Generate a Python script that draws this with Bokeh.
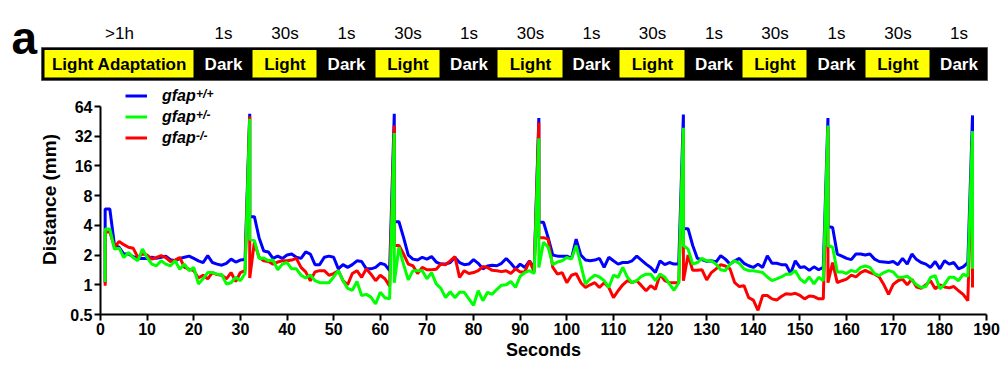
from bokeh.plotting import figure
from bokeh.models import Range1d, FixedTicker, Legend, LegendItem, Label, ColumnDataSource
from bokeh.embed import file_html
from bokeh.resources import INLINE
from bokeh.core.properties import value

# ---------------- data ----------------
seconds = list(range(1, 188))
spike_times = [32, 63, 94, 125, 156, 187]

wt = [5.85, 5.85, 2.5, 2.4, 2.05, 2.05, 1.93, 1.85, 1.85, 1.85,
      1.9, 1.85, 1.9, 1.95, 1.8, 1.75, 1.85, 1.9, 1.95, 1.85,
      1.75, 1.68, 1.97, 1.68, 1.62, 1.58, 1.65, 1.82, 1.7, 1.78,
      1.8, 54, 4.9, 3.0, 2.2, 2.15, 1.85, 1.95, 1.85, 2.0,
      2.05, 1.9, 1.85, 2.15, 2.05, 1.6, 1.6, 1.9, 1.95, 1.9,
      1.45, 1.6, 1.5, 1.6, 1.75, 1.72, 1.45, 1.45, 1.5, 1.65,
      1.6, 1.39, 54, 4.35, 3.0, 2.0, 1.82, 1.78, 1.9, 1.82,
      1.93, 1.7, 1.62, 1.62, 1.68, 1.89, 1.68, 1.6, 1.62, 1.8,
      1.65, 1.45, 1.55, 1.58, 1.56, 1.65, 1.85, 1.65, 1.45, 1.62,
      1.5, 1.75, 1.45, 49, 4.3, 3.0, 2.0, 1.95, 1.95, 1.95,
      1.85, 2.9, 2.0, 1.78, 1.75, 1.78, 1.85, 1.5, 1.9, 1.75,
      1.62, 1.68, 1.68, 1.75, 1.95, 1.78, 1.62, 1.5, 1.33, 1.75,
      1.6, 1.68, 1.62, 1.62, 53, 3.7, 2.5, 1.85, 1.8, 1.73,
      1.75, 1.7, 1.97, 1.82, 1.62, 1.75, 1.85, 1.65, 1.56, 1.5,
      1.62, 1.5, 1.97, 1.65, 1.65, 1.6, 1.6, 1.3, 1.75, 1.5,
      1.52, 1.4, 1.52, 1.42, 1.5, 49, 3.8, 2.05, 1.95, 1.85,
      1.8, 2.05, 2.05, 2.0, 2.05, 1.82, 1.72, 1.7, 1.68, 1.72,
      1.6, 1.85, 1.62, 2.05, 1.8, 1.68, 1.62, 1.5, 1.72, 1.45,
      1.75, 1.62, 1.68, 1.45, 1.52, 1.68, 52]
wt_start = 1.05
wt_after_spike = [4.9, 4.35, 4.3, 3.7, 3.9, 2.0]

het = [3.67, 3.67, 2.3, 2.35, 1.89, 2.12, 1.89, 1.75, 2.3, 1.89,
       1.62, 1.56, 1.75, 1.62, 1.56, 1.75, 1.44, 1.62, 1.39, 1.5,
       1.02, 1.15, 1.33, 1.33, 1.28, 1.27, 1.02, 1.05, 1.19, 1.1,
       1.3, 48, 2.8, 1.85, 1.87, 1.75, 1.78, 1.42, 1.62, 1.68,
       1.45, 1.45, 1.25, 1.17, 1.26, 1.1, 1.05, 1.05, 1.05, 1.2,
       1.39, 1.1, 0.92, 0.88, 1.08, 0.78, 0.8, 0.75, 0.64, 0.84,
       0.74, 0.72, 34.5, 2.4, 1.6, 1.12, 1.39, 1.39, 1.39, 1.15,
       1.33, 1.02, 0.92, 0.74, 0.85, 0.74, 0.84, 0.84, 0.72, 0.62,
       0.87, 0.69, 0.84, 0.8, 0.9, 0.99, 1.0, 1.08, 0.94, 1.22,
       1.33, 1.39, 1.3, 30.5, 2.7, 2.4, 1.6, 1.7, 1.75, 1.89,
       1.82, 2.5, 1.6, 1.02, 1.15, 1.25, 1.2, 1.1, 0.94, 1.25,
       1.19, 1.5, 1.19, 1.05, 1.1, 1.22, 1.28, 1.28, 1.1, 1.28,
       1.2, 1.02, 0.88, 1.05, 39, 2.3, 1.62, 1.68, 1.85, 1.75,
       1.75, 1.62, 1.42, 1.39, 1.62, 1.75, 1.65, 1.45, 1.39, 1.39,
       1.36, 1.33, 1.2, 1.1, 1.15, 1.2, 1.28, 1.28, 1.39, 1.15,
       1.05, 1.2, 1.02, 1.19, 1.1, 41, 2.4, 1.35, 1.35, 1.3,
       1.4, 1.35, 1.5, 1.55, 1.5, 1.3, 1.24, 1.33, 1.39, 1.35,
       1.19, 1.19, 1.22, 1.12, 1.0, 0.94, 0.96, 1.19, 1.24, 0.91,
       1.01, 1.19, 1.19, 1.1, 1.28, 1.22, 36]
het_start = 1.07
het_after_spike = [2.9, 1.05, 1.5, 2.5, 2.5, 1.45]

ko = [3.4, 3.45, 2.4, 2.75, 2.55, 2.4, 2.35, 1.9, 2.05, 2.0,
      1.82, 1.89, 1.97, 1.89, 1.72, 1.78, 1.89, 1.5, 1.44, 1.39,
      1.17, 1.25, 1.15, 1.33, 1.27, 1.25, 1.15, 1.33, 1.08, 1.33,
      1.39, 51, 2.7, 1.9, 1.75, 1.72, 1.62, 1.7, 1.75, 1.75,
      1.78, 1.85, 1.5, 1.35, 1.1, 1.35, 1.39, 1.39, 1.25, 1.3,
      1.39, 1.1, 1.0, 1.3, 1.39, 1.19, 1.45, 1.28, 1.1, 1.25,
      1.15, 0.97, 41, 2.5, 2.05, 1.62, 1.56, 1.3, 1.5, 1.42,
      1.42, 1.44, 1.62, 1.6, 1.75, 1.93, 1.19, 1.39, 1.3, 1.33,
      1.39, 1.53, 1.5, 1.4, 1.39, 1.36, 1.39, 1.3, 1.45, 1.35,
      1.35, 1.75, 1.35, 44, 3.0, 2.9, 1.5, 1.28, 1.33, 1.05,
      1.25, 1.3, 1.05, 0.94, 1.0, 1.05, 0.94, 1.05, 0.94, 0.74,
      0.87, 1.0, 1.1, 1.05, 1.1, 0.98, 0.87, 0.98, 0.9, 1.28,
      1.1, 1.05, 1.05, 1.05, 35, 2.0, 1.4, 1.4, 1.42, 1.12,
      1.33, 1.45, 1.6, 1.55, 1.45, 1.05, 0.96, 0.98, 0.74, 0.7,
      0.55, 0.78, 0.78, 0.72, 0.7, 0.76, 0.81, 0.8, 0.82, 0.78,
      0.72, 0.77, 0.76, 0.72, 0.72, 38, 1.68, 1.05, 1.1, 1.14,
      1.25, 1.2, 1.33, 1.4, 1.33, 1.28, 1.2, 1.0, 0.8, 1.01,
      1.1, 1.14, 1.0, 1.14, 0.95, 0.92, 1.0, 1.1, 0.91, 1.0,
      0.95, 0.93, 0.96, 0.87, 0.8, 0.69, 33]
ko_start = 0.98
ko_after_spike = [1.17, 2.5, 3.0, 1.1, 1.05, 0.94]

x_ticks = list(range(0, 191, 10))
y_ticks = [0.5, 1, 2, 4, 8, 16, 32, 64]
y_tick_labels = ["0.5", "1", "2", "4", "8", "16", "32", "64"]

phase_labels = ["Light Adaptation", "Dark", "Light", "Dark", "Light", "Dark", "Light",
                "Dark", "Light", "Dark", "Light", "Dark", "Light", "Dark"]
phase_durations = [">1h", "1s", "30s", "1s", "30s", "1s", "30s",
                   "1s", "30s", "1s", "30s", "1s", "30s", "1s"]
phase_widths = [150, 58, 65, 58, 65, 57, 66, 56, 66, 57, 65, 58, 65, 57]

legend_names = ["gfap", "gfap", "gfap"]
legend_sups = ["+/+", "+/-", "-/-"]

FONT = "Liberation Sans"


def trace(vals, start, after):
    xs, ys = [], []
    for t, v in zip(seconds, vals):
        if t == seconds[0]:
            xs.append(t)
            ys.append(start)
        xs.append(t)
        ys.append(v)
        if t in spike_times:
            xs.append(t)
            ys.append(after[spike_times.index(t)])
    return xs, ys


# ---------------- top schematic ----------------
total_w = sum(phase_widths)
top = figure(width=1004, height=84, x_range=Range1d(-44, 960), y_range=Range1d(84, 0),
             output_backend="svg", toolbar_location=None, min_border=0)
top.axis.visible = False
top.grid.visible = False
top.outline_line_color = None

lefts, rights = [], []
acc = 0
for w in phase_widths:
    lefts.append(acc)
    rights.append(acc + w)
    acc += w
centers = [(a + b) / 2 for a, b in zip(lefts, rights)]

top.quad(left=[lefts[0] - 3], right=[total_w], top=[47], bottom=[80],
         fill_color="black", line_color="#555555", line_width=1)
light_idx = [i for i, lab in enumerate(phase_labels) if lab != "Dark"]
top.quad(left=[lefts[i] for i in light_idx], right=[rights[i] - 1 for i in light_idx],
         top=[49.5] * len(light_idx), bottom=[77] * len(light_idx),
         fill_color="#FFFF00", line_color=None)

seg_src = ColumnDataSource(dict(
    x=centers, y=[63.5] * len(centers), text=phase_labels,
    color=["white" if lab == "Dark" else "black" for lab in phase_labels]))
top.text(x="x", y="y", text="text", source=seg_src, text_color="color",
         text_font=value(FONT), text_font_size="17px", text_font_style="bold",
         text_align="center", text_baseline="middle")

dur_src = ColumnDataSource(dict(x=centers, y=[33] * len(centers), text=phase_durations))
top.text(x="x", y="y", text="text", source=dur_src, text_color="black",
         text_font=value(FONT), text_font_size="17px",
         text_align="center", text_baseline="middle")

top.add_layout(Label(x=-33, y=37, text="a", text_font=FONT, text_font_size="46px",
                     text_font_style="bold", text_color="black", text_baseline="alphabetic"))

# ---------------- main chart ----------------
PX_PER_OCTAVE = 208 / 7.0          # frame pixels per doubling between 0.5 and 64
HEADROOM_PX = 22                   # room above 64 for the legend
y_top = 64 * 2 ** (HEADROOM_PX / PX_PER_OCTAVE)

p = figure(width=1004, height=283, x_range=Range1d(0, 190), y_range=Range1d(0.5, y_top),
           y_axis_type="log", output_backend="svg", toolbar_location=None,
           min_border_left=100, min_border_right=18, min_border_top=0, min_border_bottom=53)
p.grid.visible = False
p.outline_line_color = None

r_wt = p.line(*trace(wt, wt_start, wt_after_spike), line_color="#0000FF", line_width=3)
r_ko = p.line(*trace(ko, ko_start, ko_after_spike), line_color="#FF0000", line_width=3)
r_het = p.line(*trace(het, het_start, het_after_spike), line_color="#00FF00", line_width=3)

for ax in (p.xaxis[0], p.yaxis[0]):
    ax.axis_line_width = 2
    ax.axis_line_color = "black"
    ax.major_tick_line_width = 2
    ax.major_tick_out = 6
    ax.major_tick_in = 0
    ax.minor_tick_out = 0
    ax.minor_tick_in = 0
    ax.major_label_text_font = FONT
    ax.major_label_text_font_style = "bold"
    ax.major_label_text_font_size = "16px"
    ax.major_label_text_color = "black"
    ax.major_label_standoff = 2

p.xaxis.ticker = FixedTicker(ticks=x_ticks)
p.yaxis.ticker = FixedTicker(ticks=y_ticks)
p.yaxis.bounds = (0.5, 64)
p.yaxis.major_label_overrides = {t: s for t, s in zip(y_ticks, y_tick_labels)}
p.yaxis.axis_label = "Distance (mm)"
p.yaxis.axis_label_text_font = FONT
p.yaxis.axis_label_text_font_style = "bold"
p.yaxis.axis_label_text_font_size = "19px"
p.yaxis.axis_label_text_color = "black"
p.yaxis.axis_label_standoff = 7

p.xaxis.axis_label = "Seconds"
p.xaxis.axis_label_text_font = FONT
p.xaxis.axis_label_text_font_style = "bold"
p.xaxis.axis_label_text_font_size = "18px"
p.xaxis.axis_label_text_color = "black"
p.xaxis.axis_label_standoff = 2

legend = Legend(items=[LegendItem(label=legend_names[0], renderers=[r_wt]),
                       LegendItem(label=legend_names[1], renderers=[r_het]),
                       LegendItem(label=legend_names[2], renderers=[r_ko])],
                location=(25, 166), glyph_width=22, glyph_height=21, label_height=21,
                spacing=0, padding=0, margin=0, border_line_alpha=0,
                background_fill_alpha=0, label_standoff=15,
                label_text_font=FONT, label_text_font_style="bold italic",
                label_text_font_size="16px", label_text_color="black")
p.add_layout(legend)

# superscripts: baseline ~2px above each legend row centre (rows at 21px pitch)
row_centres_px = [314 - 95, 314 - 116, 314 - 137]   # px above the x axis
for sup, rc in zip(legend_sups, row_centres_px):
    p.add_layout(Label(x=20.5, y=0.5 * 2 ** ((rc + 2) / PX_PER_OCTAVE), text=sup,
                       text_font=FONT, text_font_size="12px",
                       text_font_style="bold italic", text_color="black",
                       text_baseline="alphabetic"))

open("out.html", "w").write(file_html([top, p], INLINE))
